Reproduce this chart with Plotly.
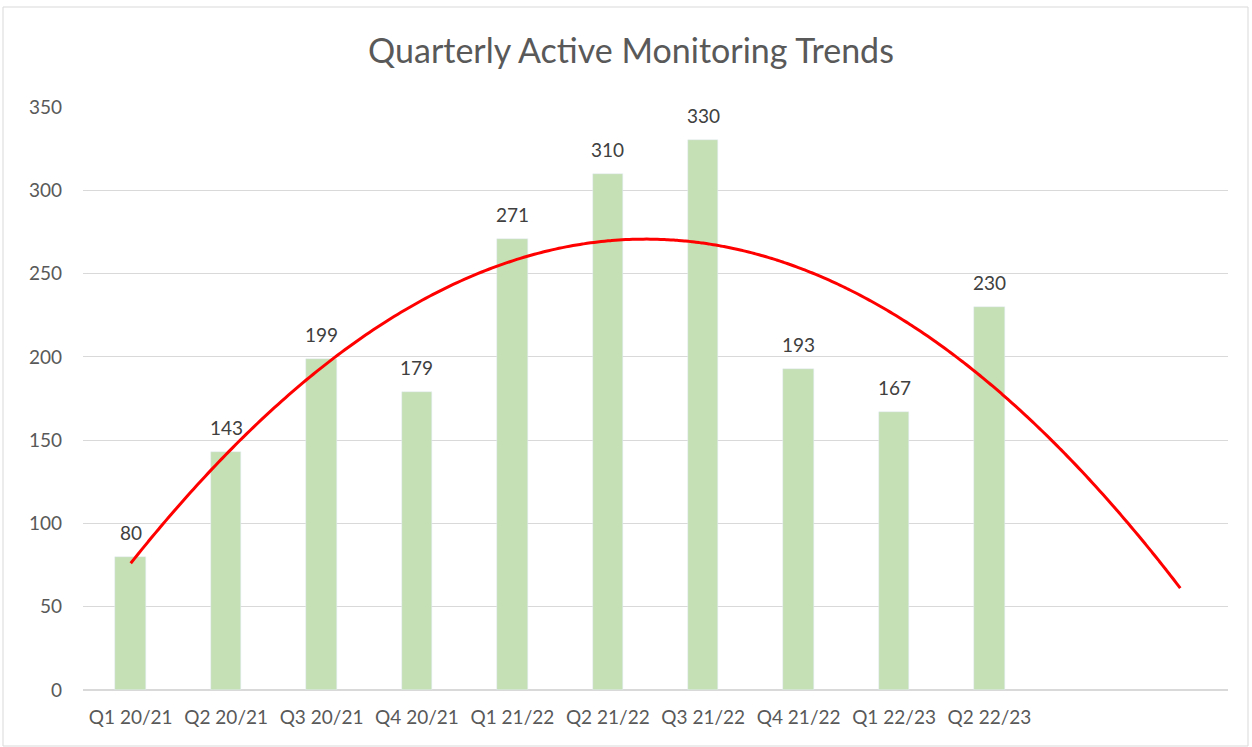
import numpy as np
import plotly.graph_objects as go

categories = ["Q1 20/21", "Q2 20/21", "Q3 20/21", "Q4 20/21", "Q1 21/22",
              "Q2 21/22", "Q3 21/22", "Q4 21/22", "Q1 22/23", "Q2 22/23"]
values = [80, 143, 199, 179, 271, 310, 330, 193, 167, 230]
n_slots = 12  # two empty trailing category slots in the original
y_ticks = [0, 50, 100, 150, 200, 250, 300, 350]

x_idx = np.arange(len(values))
coef = np.polyfit(x_idx, values, 2)
xt = np.linspace(0, n_slots - 1, 300)
yt = np.polyval(coef, xt)

FONT = "Lato, 'Open Sans', sans-serif"

fig = go.Figure()
fig.add_trace(go.Bar(
    x=x_idx, y=values, width=0.32, marker_color="#C5E0B4",
    hoverinfo="x+y",
))
fig.add_trace(go.Scatter(
    x=xt, y=yt, mode="lines", line=dict(color="#FF0000", width=3, shape="spline"),
    hoverinfo="skip",
))

for xi, v in zip(x_idx, values):
    fig.add_annotation(x=xi, y=v, text=str(v), showarrow=False,
                       xref="x", yref="y", yanchor="bottom", yshift=11,
                       font=dict(size=19, color="#404040", family=FONT))

W, H = 1252, 747
L, R, T, B = 83, 24, 107, 57
pw, ph = W - L - R, H - T - B

def px(x):
    return (x - L) / pw

def py(y):
    return (H - B - y) / ph

fig.add_shape(type="rect", xref="paper", yref="paper",
              x0=px(3), x1=px(1248), y0=py(746), y1=py(7),
              line=dict(color="#D9D9D9", width=1), fillcolor="rgba(0,0,0,0)",
              layer="below")

fig.update_layout(
    width=W, height=H,
    margin=dict(l=L, r=R, t=T, b=B),
    paper_bgcolor="white", plot_bgcolor="white",
    showlegend=False,
    bargap=0,
    title=dict(text="Quarterly Active Monitoring Trends",
               x=px(631), xanchor="center", xref="paper",
               y=1 - 51 / H, yanchor="middle",
               font=dict(size=34, color="#595959", family=FONT)),
    xaxis=dict(range=[-0.5, n_slots - 0.5], tickvals=list(x_idx),
               ticktext=categories, showgrid=False, zeroline=False,
               showline=False, ticks="", ticklabelstandoff=14,
               tickfont=dict(size=19, color="#595959", family=FONT)),
    yaxis=dict(range=[0, 350], tickvals=y_ticks, showgrid=True,
               gridcolor="#D9D9D9", gridwidth=1, zeroline=True,
               zerolinecolor="#D9D9D9", zerolinewidth=1.5, ticks="",
               ticklabelstandoff=20,
               tickfont=dict(size=19, color="#595959", family=FONT)),
)

fig.write_html("out.html", config={"displayModeBar": False},
               post_script="document.body.style.margin='0';document.body.style.overflow='hidden';")
